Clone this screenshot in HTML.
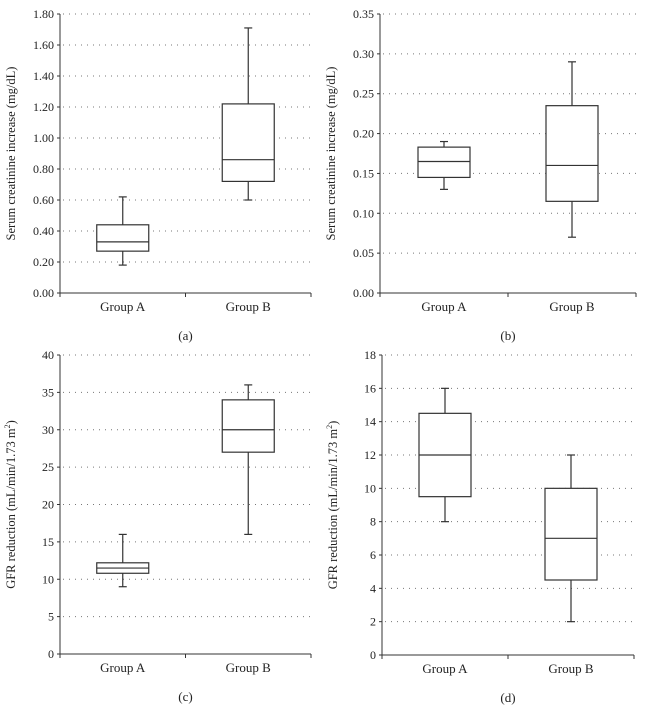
<!DOCTYPE html>
<html><head><meta charset="utf-8"><style>
body{margin:0;background:#fff;}
svg{display:block;font-family:"Liberation Serif",serif;}
</style></head><body>
<svg id="chart" width="646" height="708" viewBox="0 0 646 708"></svg>
<script>
const categories=["Group A","Group B"];
// [min,q1,median,q3,max]
const seriesA=[[0.18,0.27,0.33,0.44,0.62],[0.60,0.72,0.86,1.22,1.71]];
const seriesB=[[0.13,0.145,0.165,0.183,0.19],[0.07,0.115,0.16,0.235,0.29]];
const seriesC=[[9,10.8,11.5,12.2,16],[16,27,30,34,36]];
const seriesD=[[8,9.5,12,14.5,16],[2,4.5,7,10,12]];
const ticksA=["0.00","0.20","0.40","0.60","0.80","1.00","1.20","1.40","1.60","1.80"];
const ticksB=["0.00","0.05","0.10","0.15","0.20","0.25","0.30","0.35"];
const ticksC=["0","5","10","15","20","25","30","35","40"];
const ticksD=["0","2","4","6","8","10","12","14","16","18"];
const panels=[
 {id:"a",data:seriesA,ticks:ticksA,x0:60,x1:311,y0:293,y1:14,label:"Serum creatinine increase (mg/dL)"},
 {id:"b",data:seriesB,ticks:ticksB,x0:380,x1:636,y0:293,y1:14,label:"Serum creatinine increase (mg/dL)"},
 {id:"c",data:seriesC,ticks:ticksC,x0:60,x1:311,y0:654,y1:355,label:"GFR"},
 {id:"d",data:seriesD,ticks:ticksD,x0:382,x1:634,y0:655,y1:355,label:"GFR"}
];
const NS="http://www.w3.org/2000/svg";
const svg=document.getElementById("chart");
function mk(tag,attrs,parent){const e=document.createElementNS(NS,tag);for(const k in attrs)e.setAttribute(k,attrs[k]);parent.appendChild(e);return e;}
panels.forEach(p=>{
 const g=mk("g",{},svg);
 
 
 const vmin=parseFloat(p.ticks[0]),vmax=parseFloat(p.ticks[p.ticks.length-1]);
 const y=v=>p.y0-(v-vmin)/(vmax-vmin)*(p.y0-p.y1);
 const band=(p.x1-p.x0)/categories.length;
 const x=i=>p.x0+band*(i+0.5);
 p.ticks.forEach(t=>{
  const v=parseFloat(t),yy=y(v);
  if(v>vmin){const gl=mk("line",{x1:p.x0+3,x2:p.x1,y1:yy,y2:yy,stroke:"#777","stroke-width":1,"stroke-dasharray":"1 5"},g);
   
   }
  mk("line",{x1:p.x0-3,x2:p.x0,y1:yy,y2:yy,stroke:"#333"},g);
  const tx=mk("text",{x:p.x0-6,y:yy+4,"text-anchor":"end","font-size":12,fill:"#222"},g);
  tx.textContent=t;
  
  
 });
 mk("line",{x1:p.x0,x2:p.x0,y1:p.y1,y2:p.y0,stroke:"#333"},g);
 mk("line",{x1:p.x0,x2:p.x1,y1:p.y0,y2:p.y0,stroke:"#333"},g);
 for(let i=0;i<=categories.length;i++){const tx=p.x0+band*i;mk("line",{x1:tx,x2:tx,y1:p.y0,y2:p.y0+4,stroke:"#333"},g);}
 categories.forEach((c,i)=>{
  const t=mk("text",{x:x(i),y:p.y0+18,"text-anchor":"middle","font-size":13,fill:"#222"},g);
  t.textContent=c;
  
  
  const d=p.data[i],cx=x(i),w=52;
  const bg=mk("g",{stroke:"#333","stroke-width":1.2,fill:"#fff"},g);
  
  
  mk("line",{x1:cx,x2:cx,y1:y(d[0]),y2:y(d[4])},bg);
  mk("line",{x1:cx-4,x2:cx+4,y1:y(d[0]),y2:y(d[0])},bg);
  mk("line",{x1:cx-4,x2:cx+4,y1:y(d[4]),y2:y(d[4])},bg);
  mk("rect",{x:cx-w/2,y:y(d[3]),width:w,height:y(d[1])-y(d[3])},bg);
  mk("line",{x1:cx-w/2,x2:cx+w/2,y1:y(d[2]),y2:y(d[2])},bg);
 });
 const ly=(p.y0+p.y1)/2,lx=p.x0-45;
 const lt=mk("text",{x:lx,y:ly,"text-anchor":"middle","font-size":12.5,fill:"#222",transform:`rotate(-90 ${lx} ${ly})`},g);
 if(p.label==="GFR"){lt.innerHTML='GFR reduction (mL/min/1.73 m<tspan dy="-5" font-size="8">2</tspan><tspan dy="5">)</tspan>';}
 else lt.textContent=p.label;
 
 
 const cap=mk("text",{x:(p.x0+p.x1)/2,y:p.y0+47,"text-anchor":"middle","font-size":13,fill:"#222"},g);
 cap.textContent="("+p.id+")";
 
 
});
</script>
</body></html>
